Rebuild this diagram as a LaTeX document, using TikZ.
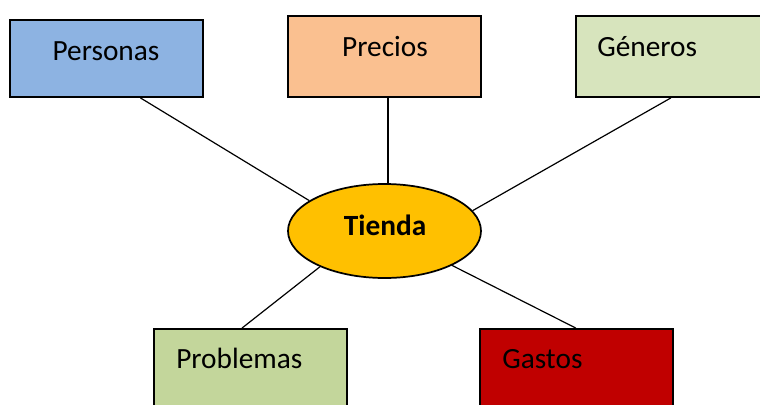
\documentclass[tikz,border=0pt]{standalone}
\usepackage{fontspec}
\setmainfont{Carlito}
\usetikzlibrary{shapes.geometric,calc}
\definecolor{cPers}{HTML}{8DB3E2}
\definecolor{cPrec}{HTML}{FAC090}
\definecolor{cGen}{HTML}{D7E4BD}
\definecolor{cTie}{HTML}{FFC000}
\definecolor{cProb}{HTML}{C3D69B}
\definecolor{cGas}{HTML}{C00000}
\tikzset{
  box/.style={draw=black, line width=1.3pt, rectangle, inner sep=0pt,
    minimum width=144.75pt},
  lbl/.style={inner sep=0pt, font=\fontsize{22pt}{26pt}\selectfont},
  conn/.style={draw=black, line width=0.9pt},
}
\begin{document}
\begin{tikzpicture}[x=0.75pt,y=-0.75pt]
\useasboundingbox (0,0) rectangle (760,404);
\clip (0,0) rectangle (760,404);
\fill[white] (0,0) rectangle (760,404);
% boxes
\node[box, fill=cPers, minimum height=57.75pt] (pers) at (106.5,58.5) {};
\node[box, fill=cPrec, minimum height=60.75pt] (prec) at (384.5,56.5) {};
\node[box, fill=cGen, minimum height=60.75pt] (gen) at (672.5,56.5) {};
\node[box, fill=cProb, minimum height=60.75pt] (prob) at (250.5,369.5) {};
\node[box, fill=cGas, minimum height=60.75pt] (gas) at (576.5,369.5) {};
\node[ellipse, draw=black, line width=1.3pt, fill=cTie, inner sep=0pt,
  minimum width=144.75pt, minimum height=70.5pt] (tienda) at (384.5,231) {};
% labels
\node[lbl, anchor=base] (tPers) at (106,60.7) {Personas};
\node[lbl, anchor=base] (tPrec) at (385,56) {Precios};
\node[lbl, anchor=base west] (tGen) at (597,56.5) {Géneros};
\node[lbl, anchor=base west] (tProb) at (176,368) {Problemas};
\node[lbl, anchor=base west] (tGas) at (502,368) {Gastos};
\node[lbl, anchor=base, font=\fontsize{22pt}{26pt}\selectfont\bfseries] (tTie) at (385,235.7) {Tienda};
% connector start points
\coordinate (sPers) at ($(pers.south west)!0.674!(pers.south east)$);
\coordinate (sPrec) at ($(prec.south west)!0.518!(prec.south east)$);
\coordinate (sGen) at ($(gen.south west)!0.492!(gen.south east)$);
\coordinate (sProb) at ($(prob.north west)!0.456!(prob.north east)$);
\coordinate (sGas) at ($(gas.north west)!0.497!(gas.north east)$);
% connectors
\draw[conn] (sPers) -- (tienda.158);
\draw[conn] (sPrec) -- (sPrec |- tienda.north);
\draw[conn] (sGen) -- (tienda.13.6);
\draw[conn] (sProb) -- (tienda.209.8);
\draw[conn] (sGas) -- (tienda.333.6);
\end{tikzpicture}
\end{document}
